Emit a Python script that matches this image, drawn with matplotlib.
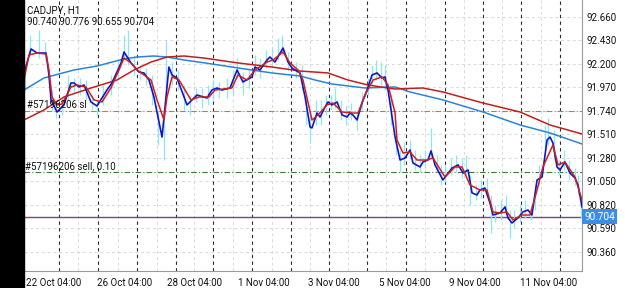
import matplotlib
matplotlib.use("Agg")
import matplotlib.pyplot as plt
from matplotlib.patches import Rectangle
import matplotlib.transforms as mtransforms

plt.rcParams['font.family'] = ['Roboto', 'DejaVu Sans']

symbol = "CADJPY, H1"
ohlc_text = "90.740 90.776 90.655 90.704"
bid = 90.704
sl_level = 91.735
sell_level = 91.143
sl_label = "#57196206 sl"
sell_label = "#57196206 sell, 0.10"

y_ticks = [90.360, 90.590, 90.820, 91.050, 91.280, 91.510, 91.740, 91.970, 92.200, 92.430, 92.660]
x_tick_pos = [1.5, 49.5, 97.5, 145.5, 193.5, 241.5, 289.5, 337.5]
x_tick_labels = ["22 Oct 04:00", "26 Oct 04:00", "28 Oct 04:00", "1 Nov 04:00",
                 "3 Nov 04:00", "5 Nov 04:00", "9 Nov 04:00", "11 Nov 04:00"]
day_sep = [23.8, 50.4, 77.0, 103.5, 128.7, 155.3, 181.8, 207.7, 233.6, 260.1, 286.7, 312.6, 338.5, 365.1]

# fast MA (dark blue)
fast_x = [0, 4.8, 8.9, 15.0, 17.0, 18.4, 22.5, 27.2, 32.0, 34.0, 37.5, 40.9, 45.6, 49.7, 56.5, 59.9,
          66.1, 68.1, 72.9, 78.3, 81.7, 85.1, 88.5, 94.0, 98.7, 100.8, 104.2, 111.0, 117.8, 124.6,
          128.0, 131.4, 134.8, 140.3, 145.1, 149.1, 155.3, 157.3, 160.7, 165.5, 167.5, 170.9, 176.4,
          179.8, 182.5, 184.6, 188.0, 191.4, 194.8, 196.1, 199.5, 201.6, 205.0, 207.0, 209.7, 213.2,
          216.6, 220.0, 222.0, 224.0, 226.8, 230.2, 233.6, 237.0, 240.4, 243.8, 245.8, 247.9, 252.7,
          256.1, 259.5, 262.9, 264.9, 269.7, 271.7, 275.1, 277.2, 279.9, 285.3, 291.5, 295.6, 299.0,
          302.4, 305.1, 308.5, 310.5, 313.9, 317.3, 319.4, 324.2, 327.6, 329.6, 332.3, 336.4, 339.8,
          343.2, 345.9, 349.4, 352.8, 356.2, 358.2, 360.2, 363.0, 365.0, 368.4, 371.8, 375.2, 377.3, 380.0]
fast_y = [92.112, 92.347, 92.307, 92.307, 92.092, 91.848, 91.730, 91.799, 92.014, 92.014, 91.975, 91.994,
          91.828, 91.789, 91.945, 92.014, 92.210, 92.317, 92.210, 92.121, 92.112, 92.043, 91.877, 91.485,
          92.170, 92.092, 92.063, 91.799, 91.896, 91.867, 91.945, 91.965, 91.945, 91.965, 92.141, 92.024,
          92.073, 92.170, 92.141, 92.239, 92.268, 92.219, 92.356, 92.219, 92.161, 92.141, 92.112, 91.877,
          91.583, 91.574, 91.720, 91.681, 91.779, 91.828, 91.799, 91.828, 91.701, 91.681, 91.720, 91.701,
          91.652, 91.818, 91.945, 92.092, 92.112, 92.063, 92.073, 91.945, 91.485, 91.260, 91.280, 91.358,
          91.231, 91.192, 91.241, 91.260, 91.349, 91.212, 91.065, 91.182, 91.212, 91.133, 91.163, 90.938,
          90.918, 90.967, 90.986, 90.840, 90.722, 90.742, 90.801, 90.693, 90.644, 90.693, 90.752, 90.771,
          90.722, 91.065, 91.094, 91.456, 91.485, 91.427, 91.192, 91.163, 91.241, 91.133, 91.084, 91.016, 90.801]

# fast MA (red)
mid_x = [0, 3.4, 8.9, 15.0, 17.0, 19.1, 22.5, 25.9, 32.0, 36.1, 42.2, 47.7, 53.1, 59.2, 64.7, 68.1, 72.9,
         77.0, 86.5, 90.6, 95.3, 97.4, 100.8, 105.6, 113.7, 119.2, 126.0, 130.1, 141.6, 145.7, 151.9,
         157.3, 165.5, 169.6, 176.4, 181.1, 186.6, 190.0, 196.1, 200.2, 206.3, 210.4, 216.6, 223.4,
         227.5, 232.2, 237.7, 243.8, 247.9, 252.7, 254.0, 258.1, 262.9, 267.6, 274.4, 278.5, 286.7,
         293.5, 298.3, 303.7, 310.5, 315.3, 319.4, 324.2, 328.9, 333.0, 339.1, 344.6, 349.4, 353.4,
         360.2, 363.7, 368.4, 375.2, 380.0]
mid_y = [92.043, 92.288, 92.307, 92.297, 92.141, 91.877, 91.799, 91.808, 91.975, 91.994, 91.975, 91.848,
         91.828, 91.965, 92.141, 92.258, 92.210, 92.141, 92.043, 91.848, 91.652, 91.877, 92.073, 92.043,
         91.848, 91.877, 91.877, 91.945, 91.965, 92.092, 92.043, 92.141, 92.219, 92.239, 92.317, 92.210,
         92.141, 92.043, 91.652, 91.701, 91.799, 91.818, 91.730, 91.720, 91.720, 91.896, 92.043, 92.073,
         91.994, 91.720, 91.456, 91.329, 91.339, 91.260, 91.260, 91.280, 91.094, 91.192, 91.192, 91.016,
         90.967, 90.967, 90.752, 90.742, 90.752, 90.673, 90.722, 90.722, 90.967, 91.192, 91.407, 91.212,
         91.241, 91.094, 90.869]

# slow MA (light blue)
slow1_x = [0, 13.6, 34.0, 49.7, 68.1, 77.0, 88.5, 97.4, 109.0, 123.3, 145.7, 168.9, 188.0, 198.2,
           209.7, 232.2, 252.7, 262.9, 285.3, 312.6, 337.8, 358.2, 380.0]
slow1_y = [91.945, 92.063, 92.141, 92.180, 92.249, 92.268, 92.278, 92.268, 92.239, 92.210, 92.161,
           92.112, 92.082, 92.043, 92.004, 91.965, 91.975, 91.926, 91.848, 91.730, 91.603, 91.525, 91.417]

# slow MA (red)
slow2_x = [0, 13.6, 27.2, 45.6, 63.3, 74.9, 86.5, 97.4, 109.0, 122.6, 145.7, 168.9, 188.0, 207.0,
           220.6, 234.3, 252.7, 271.7, 285.3, 312.6, 337.8, 358.2, 380.0]
slow2_y = [91.652, 91.750, 91.877, 91.965, 92.043, 92.141, 92.219, 92.268, 92.278, 92.258, 92.210,
           92.170, 92.131, 92.112, 92.043, 91.994, 91.955, 91.965, 91.926, 91.818, 91.730, 91.603, 91.515]

# bars high/low (cyan)
bar_x = [1, 4, 10, 14, 19, 22, 26, 30, 34, 38, 42, 46, 50, 54, 59, 64, 68, 71, 75, 79, 83, 87, 91, 95,
         97, 101, 105, 109, 113, 117, 121, 125, 129, 133, 138, 142, 145, 149, 153, 157, 161, 165, 169,
         173, 176, 180, 185, 189, 192, 195, 199, 202, 206, 209, 212, 216, 219, 223, 227, 230, 234, 237,
         240, 243, 246, 250, 253, 256, 259, 263, 266, 270, 273, 277, 281, 284, 287, 291, 294, 298, 301,
         304, 308, 311, 315, 318, 321, 325, 328, 331, 334, 338, 341, 345, 348, 351, 355, 357, 361, 364,
         368, 371, 375, 377, 379]
bar_hi = [92.190, 92.484, 92.532, 92.415, 91.945, 91.799, 91.867, 92.092, 92.063, 92.063, 92.043, 91.896,
          91.848, 91.994, 92.092, 92.239, 92.484, 92.532, 92.288, 92.190, 92.161, 92.092, 91.750, 91.652,
          92.435, 92.219, 92.141, 91.994, 91.896, 91.965, 91.965, 91.994, 92.043, 92.024, 92.063, 92.141,
          92.258, 92.121, 92.141, 92.288, 92.258, 92.337, 92.356, 92.454, 92.484, 92.317, 92.219, 92.190,
          91.896, 91.701, 91.848, 91.848, 91.896, 91.896, 91.965, 91.848, 91.799, 91.818, 91.750, 91.926,
          92.063, 92.190, 92.239, 92.219, 92.190, 91.896, 91.554, 91.358, 91.437, 91.456, 91.358, 91.309,
          91.358, 91.574, 91.309, 91.212, 91.212, 91.280, 91.309, 91.280, 91.309, 91.114, 91.016, 91.065,
          91.084, 90.918, 90.820, 90.869, 90.918, 90.771, 90.771, 90.820, 90.869, 90.820, 91.016, 91.212,
          91.603, 91.671, 91.554, 91.260, 91.358, 91.260, 91.182, 91.114, 90.918]
bar_lo = [91.945, 92.288, 92.258, 92.239, 91.750, 91.671, 91.701, 91.848, 91.926, 91.896, 91.848, 91.750,
          91.701, 91.799, 91.896, 92.043, 92.239, 92.190, 92.092, 92.043, 91.994, 91.799, 91.407, 91.260,
          91.945, 91.994, 91.945, 91.750, 91.701, 91.828, 91.769, 91.799, 91.848, 91.867, 91.867, 91.896,
          92.063, 91.896, 91.965, 92.092, 92.063, 92.161, 92.190, 92.239, 92.288, 92.141, 92.063, 91.945,
          91.603, 91.427, 91.603, 91.603, 91.701, 91.750, 91.769, 91.652, 91.603, 91.652, 91.554, 91.750,
          91.896, 91.994, 92.043, 91.994, 91.945, 91.603, 91.309, 91.143, 91.212, 91.280, 91.163, 91.143,
          91.182, 91.280, 91.143, 91.016, 91.045, 91.114, 91.143, 91.084, 91.114, 90.820, 90.869, 90.889,
          90.918, 90.546, 90.654, 90.673, 90.722, 90.497, 90.595, 90.654, 90.693, 90.673, 90.771, 91.016,
          91.358, 91.407, 91.260, 91.114, 91.163, 91.065, 91.016, 90.918, 90.693]

W, H = 625, 288
fig = plt.figure(figsize=(W / 100, H / 100), dpi=100)
fig.patch.set_facecolor("white")
fig.patches.append(Rectangle((0, 0), 24 / W, 1, transform=fig.transFigure, color="black", zorder=0))

ax = fig.add_axes([24 / W, 17 / H, (582 - 24) / W, (288 - 17) / H])
ax.set_facecolor("white")
ax.set_xlim(0, 380)
ax.set_ylim(90.174, 92.826)

# grid
for v in y_ticks:
    ax.axhline(v, color="#d9d9d9", lw=0.7, ls=(0, (3, 3)), zorder=1)
for i in range(len(day_sep) - 1):
    ax.axvline((day_sep[i] + day_sep[i + 1]) / 2, color="#d9d9d9", lw=0.7, ls=(0, (3, 3)), zorder=1)
for v in day_sep:
    ax.axvline(v, color="#2a2a2a", lw=0.8, ls=(0, (3, 3)), zorder=2)

# order levels
ax.axhline(sl_level, color="#c07850", lw=0.8, ls=(0, (5, 2, 1, 2)), zorder=2)
ax.axhline(sell_level, color="#3c7a3c", lw=0.8, ls=(0, (5, 2, 1, 2)), zorder=2)
ax.axhline(bid, color="#7a4a6e", lw=1.0, zorder=2)

# bars
ax.vlines(bar_x, bar_lo, bar_hi, color="#8ae8f2", lw=0.9, zorder=3)

ax.plot(slow1_x, slow1_y, color="#2a84d8", lw=1.1, zorder=4, solid_joinstyle="round")
ax.plot(slow2_x, slow2_y, color="#c0201c", lw=1.1, zorder=4, solid_joinstyle="round")
ax.plot(fast_x, fast_y, color="#1414c8", lw=1.2, zorder=5, solid_joinstyle="round")
ax.plot(mid_x, mid_y, color="#d0201c", lw=1.1, zorder=6, solid_joinstyle="round")

# texts
ax.text(2, 92.826 - 10 / 102.2, symbol, fontsize=7, va="center", ha="left", color="#111111", zorder=7)
ax.text(2, 92.826 - 22 / 102.2, ohlc_text, fontsize=7, va="center", ha="left", color="#111111", zorder=7)
ax.text(2, sl_level + 0.01, sl_label, fontsize=7, va="bottom", ha="left", color="#111111", zorder=7)
ax.text(0.5, sell_level + 0.01, sell_label, fontsize=7, va="bottom", ha="left", color="#111111", zorder=7)

trans = mtransforms.blended_transform_factory(ax.transAxes, ax.transData)
ax.text(1.004, bid, f"{bid:.3f}", transform=trans, fontsize=7.2, va="center", ha="left", color="white",
        bbox=dict(boxstyle="square,pad=0.25", fc="#3a8ee6", ec="none"), zorder=8, clip_on=False)

ax.yaxis.tick_right()
ax.set_yticks(y_ticks)
ax.set_yticklabels([f"{v:.3f}" for v in y_ticks], fontsize=7, color="#111111")
ax.set_xticks(x_tick_pos)
ax.set_xticklabels(x_tick_labels, fontsize=7, color="#111111", ha="left")
ax.tick_params(axis="both", length=0)
ax.tick_params(axis="y", pad=3)
ax.tick_params(axis="x", pad=5)

for s in ["top", "left"]:
    ax.spines[s].set_visible(False)
for s in ["right", "bottom"]:
    ax.spines[s].set_color("#9a9a9a")
    ax.spines[s].set_linewidth(0.8)

fig.savefig("out.png", dpi=100)
